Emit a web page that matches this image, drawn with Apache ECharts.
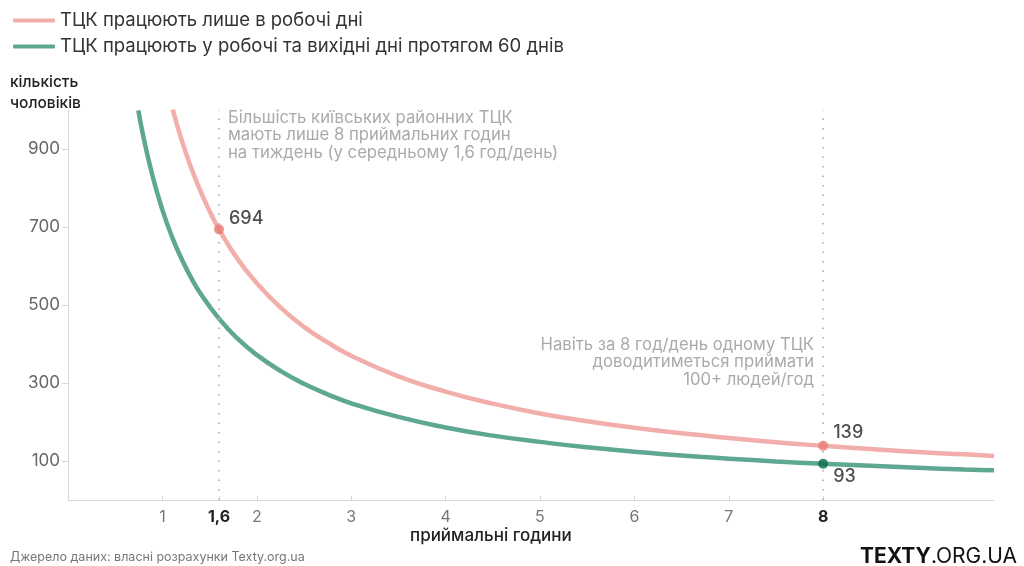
<!DOCTYPE html>
<html><head><meta charset="utf-8">
<script src="https://cdn.jsdelivr.net/npm/echarts@6/dist/echarts.min.js"></script>
<style>html,body{margin:0;padding:0;background:#fff}#c{width:1024px;height:566px}</style>
</head><body><div id="c"></div>
<script>
// Data
const seriesNames = ['ТЦК працюють лише в робочі дні', 'ТЦК працюють у робочі та вихідні дні протягом 60 днів'];
const weekdaysHours = [1.11, 1.2, 1.3, 1.4, 1.5, 1.6, 1.8, 2, 2.25, 2.5, 2.75, 3, 3.5, 4, 4.5, 5, 5.5, 6, 6.5, 7, 7.5, 8, 8.5, 9, 9.5, 9.81];
const weekdaysPeople = [1001, 926, 855, 794, 741, 694, 617, 556, 494, 444, 404, 370, 317, 278, 247, 222, 202, 185, 171, 159, 148, 139, 131, 123, 117, 113];
const allDaysHours = [0.745, 0.8, 0.9, 1.0, 1.1, 1.2, 1.3, 1.4, 1.6, 1.8, 2, 2.25, 2.5, 2.75, 3, 3.5, 4, 4.5, 5, 5.5, 6, 6.5, 7, 7.5, 8, 8.5, 9, 9.5, 9.81];
const allDaysPeople = [999, 930, 827, 744, 676, 620, 572, 531, 465, 413, 372, 331, 298, 271, 248, 213, 186, 165, 149, 135, 124, 114, 106, 99, 93, 88, 83, 78, 76];
const xTickValues = [1, 1.6, 2, 3, 4, 5, 6, 7, 8];
const yTickValues = [100, 300, 500, 700, 900];
const highlightPink = [1.6, 694];
const highlightPinkEnd = [8, 139];
const highlightGreen = [8, 93];
const note1 = ['Більшість київських районних ТЦК', 'мають лише 8 приймальних годин', 'на тиждень (у середньому 1,6 год/день)'];
const note2 = ['Навіть за 8 год/день одному ТЦК', 'доводитиметься приймати', '100+ людей/год'];

const FONT = 'Inter';
const pink = '#f2aeaa', pinkDot = '#ea7a76', green = '#5ea792', greenDot = '#0a6b4e';
const zip = (a, b) => a.map((v, i) => [v, b[i]]);

const chart = echarts.init(document.getElementById('c'));
chart.setOption({
  animation: false,
  textStyle: { fontFamily: FONT },
  legend: {
    orient: 'vertical', left: 8, top: 6, itemGap: 7, itemWidth: 42, itemHeight: 4,
    icon: 'roundRect',
    textStyle: { fontSize: 18.5, color: '#333', fontFamily: FONT },
    data: seriesNames
  },
  grid: { left: 68, right: 30, top: 110, bottom: 66 },
  xAxis: {
    type: 'value', min: 0, max: 9.81,
    axisLine: { lineStyle: { color: '#d6d6d6' } },
    splitLine: { show: false },
    axisTick: { show: true, inside: true, length: 4, customValues: xTickValues, lineStyle: { color: '#d6d6d6' } },
    axisLabel: {
      customValues: xTickValues, margin: 9, fontSize: 16, color: '#777', fontFamily: FONT,
      formatter: v => (v === 1.6 || v === 8) ? '{b|' + String(v).replace('.', ',') + '}' : String(v),
      rich: { b: { fontSize: 16, fontWeight: 'bold', color: '#222', fontFamily: FONT } }
    }
  },
  yAxis: {
    type: 'value', min: 0, max: 1000,
    axisLine: { show: true, lineStyle: { color: '#d6d6d6' } },
    splitLine: { show: false },
    axisTick: { show: true, length: 6, customValues: yTickValues, lineStyle: { color: '#d6d6d6' } },
    axisLabel: { customValues: yTickValues, margin: 8, fontSize: 17, color: '#666', fontFamily: FONT }
  },
  graphic: [
    { type: 'text', left: 10, top: 72, style: { text: 'кількість\nчоловіків', font: '500 15.5px ' + FONT, fill: '#222', lineHeight: 21 } },
    { type: 'text', left: 410, top: 527, style: { text: 'приймальні години', font: '500 17px ' + FONT, fill: '#222' } },
    { type: 'text', left: 10, top: 551, style: { text: 'Джерело даних: власні розрахунки Texty.org.ua', font: '12.5px ' + FONT, fill: '#777' } },
    { type: 'text', right: 7, top: 546, style: {
        text: '{b|TEXTY}{r|.ORG.UA}',
        rich: { b: { fontSize: 21, fontWeight: 'bold', fill: '#111', fontFamily: FONT }, r: { fontSize: 21, fill: '#111', fontFamily: FONT } }
    } },
    { type: 'text', x: 228, y: 109, style: { text: note1.join('\n'), font: '16.7px ' + FONT, fill: '#aaa', lineHeight: 17.5 } },
    { type: 'text', x: 814, y: 336, style: { text: note2.join('\n'), font: '16.7px ' + FONT, fill: '#aaa', lineHeight: 17.5, align: 'right' } }
  ],
  series: [
    {
      name: seriesNames[0], type: 'line', smooth: true, showSymbol: false,
      data: zip(weekdaysHours, weekdaysPeople),
      lineStyle: { color: pink, width: 4.5 }, itemStyle: { color: pink },
      markLine: {
        silent: true, symbol: 'none', label: { show: false },
        lineStyle: { color: '#bbb', type: [1.5, 8], width: 2 },
        data: [[{ coord: [1.6, 0] }, { coord: [1.6, 1000] }], [{ coord: [8, 0] }, { coord: [8, 1000] }]]
      },
      z: 3
    },
    {
      name: seriesNames[1], type: 'line', smooth: true, showSymbol: false,
      data: zip(allDaysHours, allDaysPeople),
      lineStyle: { color: green, width: 4.5 }, itemStyle: { color: green },
      z: 3
    },
    {
      type: 'scatter', symbolSize: 10, z: 5,
      data: [
        { value: highlightPink, itemStyle: { color: pinkDot }, label: { show: true, position: [15, -15], formatter: '694' } },
        { value: highlightPinkEnd, itemStyle: { color: pinkDot }, label: { show: true, position: [15, -17], formatter: '139' } },
        { value: highlightGreen, itemStyle: { color: greenDot }, label: { show: true, position: [15, 9], formatter: '93' } }
      ],
      label: { fontSize: 18, color: '#222', fontFamily: FONT, fontWeight: 500 }
    }
  ]
});
</script></body></html>
